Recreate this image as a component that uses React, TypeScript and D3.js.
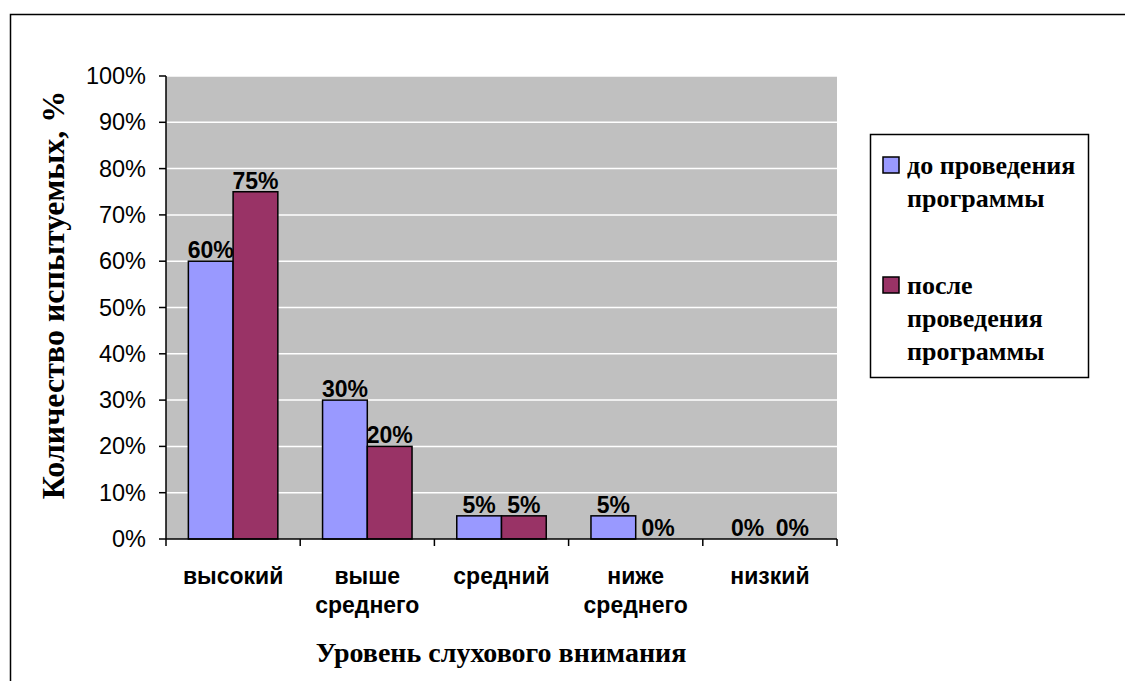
import React from "react";
import * as d3 from "d3";

const categories = ["высокий", "выше среднего", "средний", "ниже среднего", "низкий"];
const categoryLines = [["высокий"], ["выше", "среднего"], ["средний"], ["ниже", "среднего"], ["низкий"]];
const seriesNames = ["до проведения программы", "после проведения программы"];
const legendLines = [["до проведения", "программы"], ["после", "проведения", "программы"]];
const before = [60, 30, 5, 5, 0];
const after = [75, 20, 5, 0, 0];
const yTicks = [0, 10, 20, 30, 40, 50, 60, 70, 80, 90, 100];
const colors = ["#9999FF", "#993366"];

const W = 1125;
const H = 681;
const plot = { left: 166, right: 837, top: 76, bottom: 539 };

export default function App() {
  const x = d3.scaleBand<string>().domain(categories).range([plot.left, plot.right]).paddingInner(0).paddingOuter(0);
  const inner = d3.scaleBand<string>().domain(seriesNames).range([0, x.bandwidth()]).paddingInner(0).paddingOuter(0.5);
  const y = d3.scaleLinear().domain([0, 100]).range([plot.bottom, plot.top]);
  const series = [before, after];
  const arial = "Arial, 'Liberation Sans', sans-serif";
  const times = "'Times New Roman', 'Liberation Serif', serif";

  return (
    <svg width={W} height={H} style={{ position: "absolute", left: 0, top: 0 }}>
      <rect x={0} y={0} width={W} height={H} fill="#fff" />
      <path d={`M10.5,${H} L10.5,14.5 L${W},14.5`} fill="none" stroke="#000" strokeWidth={1.5} />
      <rect x={plot.left} y={plot.top} width={plot.right - plot.left} height={plot.bottom - plot.top} fill="#C0C0C0" />
      {yTicks.filter((t) => t > 0).map((t) => (
        <line key={t} x1={plot.left} x2={plot.right} y1={y(t)} y2={y(t)} stroke="#fff" strokeWidth={1.5} />
      ))}
      {series.map((vals, si) =>
        vals.map((v, ci) => {
          const bx = (x(categories[ci]) ?? 0) + (inner(seriesNames[si]) ?? 0);
          const bw = inner.bandwidth();
          return (
            <g key={`${si}-${ci}`}>
              {v > 0 && (
                <rect x={bx} y={y(v)} width={bw} height={y(0) - y(v)} fill={colors[si]} stroke="#000" strokeWidth={1.5} />
              )}
              <text x={bx + bw / 2} y={y(v) - 3} textAnchor="middle" fontFamily={arial} fontWeight="bold" fontSize={23} fill="#000">
                {v}%
              </text>
            </g>
          );
        })
      )}
      {/* axes */}
      <line x1={plot.left} x2={plot.left} y1={plot.top} y2={plot.bottom} stroke="#000" strokeWidth={1.5} />
      <line x1={plot.left} x2={plot.right} y1={plot.bottom} y2={plot.bottom} stroke="#000" strokeWidth={1.5} />
      {yTicks.map((t) => (
        <g key={t}>
          <line x1={plot.left - 7} x2={plot.left} y1={y(t)} y2={y(t)} stroke="#000" strokeWidth={1.5} />
          <text x={146} y={y(t) + 8} textAnchor="end" fontFamily={arial} fontSize={23.5} fill="#000">
            {t}%
          </text>
        </g>
      ))}
      {d3.range(categories.length + 1).map((i) => {
        const tx = plot.left + i * x.bandwidth();
        return <line key={i} x1={tx} x2={tx} y1={plot.bottom} y2={plot.bottom + 7} stroke="#000" strokeWidth={1.5} />;
      })}
      {categories.map((c, ci) => (
        <text key={c} textAnchor="middle" fontFamily={arial} fontWeight="bold" fontSize={23} fill="#000">
          {categoryLines[ci].map((ln, li) => (
            <tspan key={li} x={(x(c) ?? 0) + x.bandwidth() / 2} y={584 + li * 29}>
              {ln}
            </tspan>
          ))}
        </text>
      ))}
      <text x={501} y={662} textAnchor="middle" fontFamily={times} fontWeight="bold" fontSize={28} fill="#000">
        Уровень слухового внимания
      </text>
      <text transform={`translate(64,295) rotate(-90)`} textAnchor="middle" fontFamily={times} fontWeight="bold" fontSize={32} fill="#000">
        Количество испытуемых, %
      </text>
      {/* legend */}
      <rect x={870.5} y={134.5} width={218} height={243} fill="#fff" stroke="#000" strokeWidth={1.5} />
      {seriesNames.map((s, si) => {
        const top = si === 0 ? 157 : 277;
        return (
          <g key={s}>
            <rect x={883} y={top} width={16} height={16} fill={colors[si]} stroke="#000" strokeWidth={1.5} />
            <text fontFamily={times} fontWeight="bold" fontSize={26} fill="#000">
              {legendLines[si].map((ln, li) => (
                <tspan key={li} x={907} y={top + 17 + li * 33}>
                  {ln}
                </tspan>
              ))}
            </text>
          </g>
        );
      })}
    </svg>
  );
}
